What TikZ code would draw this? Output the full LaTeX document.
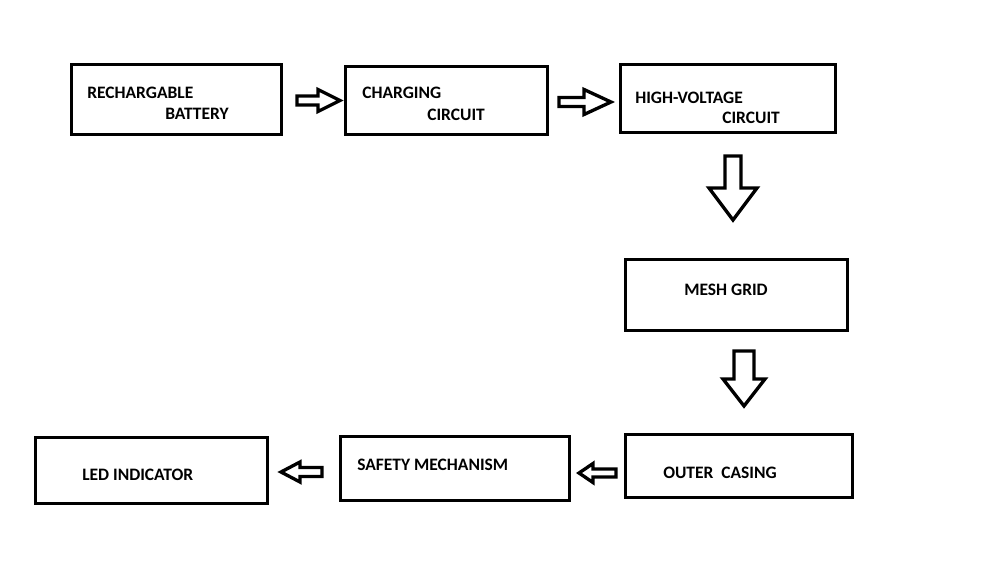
\documentclass[tikz,border=0pt]{standalone}
\usepackage{fontspec}
\setmainfont{Carlito}
\usetikzlibrary{positioning}

\begin{document}
\begin{tikzpicture}[x=0.75pt,y=-0.75pt,every node/.style={font=\bfseries\fontsize{13.1}{15}\selectfont}]
\tikzset{stage/.style={draw=black,line width=2.6pt,inner sep=0pt},
  lbl/.style={anchor=base west,inner sep=0pt},
  blockarrow/.style={draw=black,line width=2.5pt,fill=white}}
\useasboundingbox[fill=white] (0,0) rectangle (998,561);
% boxes
\node[stage,minimum width=157.5pt,minimum height=52.5pt] (b1) at (176.5,99.5) {};
\node[stage,minimum width=151.5pt,minimum height=51pt] (b2) at (446.5,100.5) {};
\node[stage,minimum width=161.25pt,minimum height=51pt] (b3) at (728,98.5) {};
\node[stage,minimum width=166.5pt,minimum height=53.25pt] (b4) at (736.5,295) {};
\node[stage,minimum width=170.25pt,minimum height=47.25pt] (b5) at (739,466) {};
\node[stage,minimum width=171.75pt,minimum height=48pt] (b6) at (455,468.5) {};
\node[stage,minimum width=174pt,minimum height=49.5pt] (b7) at (151.5,470.5) {};
% labels
\node[lbl] (t1a) at (87,98) {RECHARGABLE};
\node[lbl] (t1b) at (165,119) {BATTERY};
\node[lbl] (t2a) at (362,98) {CHARGING};
\node[lbl] (t2b) at (427,120) {CIRCUIT};
\node[lbl] (t3a) at (635,103) {HIGH-VOLTAGE};
\node[lbl] (t3b) at (722,123) {CIRCUIT};
\node[lbl] (t4) at (684,295) {MESH GRID};
\node[lbl] (t5) at (663,478) {OUTER\ \ CASING};
\node[lbl] (t6) at (357,470) {SAFETY MECHANISM};
\node[lbl] (t7) at (82,480) {LED INDICATOR};
% hollow arrows, horizontal
\foreach \xa/\xb/\xh/\y/\s/\h in {297/340/318/100.5/4.5/11,559/611/584/102/4.5/12.5,616/579/593/473/4/9.5,322/281/300/472/4.5/10}{
  \draw[blockarrow] (\xa,\y-\s) -- (\xh,\y-\s) -- (\xh,\y-\h) -- (\xb,\y) -- (\xh,\y+\h) -- (\xh,\y+\s) -- (\xa,\y+\s) -- cycle;
}
% hollow arrows, vertical
\foreach \x/\ya/\yb/\yh/\s/\h in {733/156/220/188/8/24,744/351/406/379/10/21}{
  \draw[blockarrow] (\x-\s,\ya) -- (\x-\s,\yh) -- (\x-\h,\yh) -- (\x,\yb) -- (\x+\h,\yh) -- (\x+\s,\yh) -- (\x+\s,\ya) -- cycle;
}
\end{tikzpicture}
\end{document}
